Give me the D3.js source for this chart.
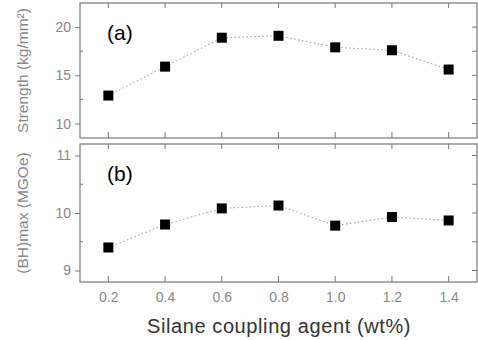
<!DOCTYPE html>
<html>
<head>
<meta charset="utf-8">
<script src="https://cdn.jsdelivr.net/npm/d3@7"></script>
<style>
  body { margin: 0; background: #fff; }
  svg { font-family: "Liberation Sans", Arial, sans-serif; }
</style>
</head>
<body>
<svg width="478" height="340"></svg>
<script>
const silane = [0.2, 0.4, 0.6, 0.8, 1.0, 1.2, 1.4]
const strength = [12.9, 15.9, 18.9, 19.1, 17.9, 17.6, 15.6]
const bhmax = [9.4, 9.8, 10.08, 10.13, 9.78, 9.93, 9.87]
const xTicks = [0.2, 0.4, 0.6, 0.8, 1.0, 1.2, 1.4]
const strengthTicks = [10, 15, 20]
const bhTicks = [9, 10, 11]

const svg = d3.select('svg')
const left = 80
const right = 477
const x = d3.scaleLinear().domain([0.1, 1.5]).range([left, right])

const panels = [
  { top: 3, bottom: 138, domain: [8.5, 22.5], ticks: strengthTicks, minor: 2.5,
    values: strength, label: '(a)', title: 'Strength (kg/mm\u00b2)' },
  { top: 144, bottom: 282, domain: [8.8, 11.2], ticks: bhTicks, minor: 0.5,
    values: bhmax, label: '(b)', title: '(BH)max (MGOe)' }
]

const axisColor = '#777'

panels.forEach((p, i) => {
  const y = d3.scaleLinear().domain(p.domain).range([p.bottom, p.top])
  const g = svg.append('g')

  // left axis with labels
  g.append('g')
    .attr('transform', 'translate(' + left + ',0)')
    .call(d3.axisLeft(y).tickValues(p.ticks).tickSize(5).tickFormat(d3.format('d')))
    .call(a => a.selectAll('text').attr('fill', '#888').attr('font-size', 14).attr('dx', -1))
    .call(a => a.selectAll('line').attr('stroke', axisColor))
    .call(a => a.select('.domain').remove())

  // minor ticks left
  const minorTicks = d3.range(p.ticks[0] - p.minor * 2, p.domain[1], p.minor)
    .filter(v => v > p.domain[0] && v < p.domain[1])
  g.append('g').selectAll('line')
    .data(minorTicks.filter(v => !p.ticks.includes(v)))
    .join('line')
    .attr('x1', left).attr('x2', left + 3)
    .attr('y1', d => y(d)).attr('y2', d => y(d))
    .attr('stroke', axisColor)

  // right axis ticks (inward)
  g.append('g').selectAll('line')
    .data(minorTicks)
    .join('line')
    .attr('x1', right).attr('x2', right - 5)
    .attr('y1', d => y(d)).attr('y2', d => y(d))
    .attr('stroke', axisColor)

  // top & bottom x ticks
  g.append('g').selectAll('line')
    .data(xTicks)
    .join('line')
    .attr('x1', d => x(d)).attr('x2', d => x(d))
    .attr('y1', p.top).attr('y2', p.top + 5)
    .attr('stroke', axisColor)
  g.append('g').selectAll('line')
    .data(xTicks)
    .join('line')
    .attr('x1', d => x(d)).attr('x2', d => x(d))
    .attr('y1', p.bottom).attr('y2', p.bottom - 6)
    .attr('stroke', axisColor)

  // frame
  g.append('rect')
    .attr('x', left).attr('y', p.top)
    .attr('width', right - left).attr('height', p.bottom - p.top)
    .attr('fill', 'none').attr('stroke', axisColor).attr('stroke-width', 1.2)

  const data = silane.map((s, j) => ({ s, v: p.values[j] }))
  const line = d3.line().x(d => x(d.s)).y(d => y(d.v))
  g.append('path')
    .datum(data)
    .attr('fill', 'none')
    .attr('stroke', '#999')
    .attr('stroke-width', 1)
    .attr('stroke-dasharray', '1.5,2.5')
    .attr('d', line)

  g.selectAll('rect.pt')
    .data(data)
    .join('rect')
    .attr('class', 'pt')
    .attr('x', d => x(d.s) - 5).attr('y', d => y(d.v) - 5)
    .attr('width', 10).attr('height', 10)
    .attr('fill', '#000')

  g.append('text')
    .attr('x', 107).attr('y', p.top + 37)
    .attr('font-size', 21)
    .attr('fill', '#000')
    .text(p.label)

  g.append('text')
    .attr('transform', 'translate(28,' + ((p.top + p.bottom) / 2) + ') rotate(-90)')
    .attr('text-anchor', 'middle')
    .attr('font-size', 15.5)
    .attr('fill', '#888')
    .text(p.title)
})

// x tick labels
svg.append('g')
  .attr('transform', 'translate(0,282)')
  .call(d3.axisBottom(x).tickValues(xTicks).tickSize(0).tickPadding(10).tickFormat(d3.format('.1f')))
  .call(a => a.selectAll('text').attr('fill', '#888').attr('font-size', 14))
  .call(a => a.select('.domain').remove())

svg.append('text')
  .attr('x', 279).attr('y', 333)
  .attr('text-anchor', 'middle')
  .attr('font-size', 20)
  .attr('letter-spacing', 0.6)
  .attr('fill', '#333')
  .text('Silane coupling agent (wt%)')
</script>
</body>
</html>
